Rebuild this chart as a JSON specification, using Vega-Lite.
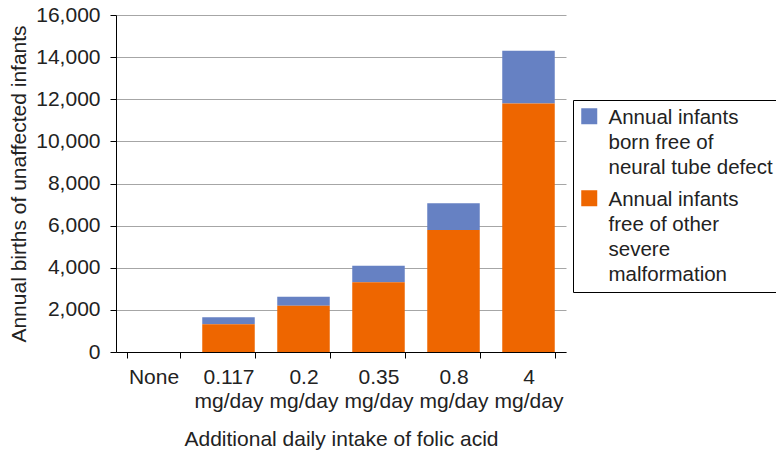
{
  "$schema": "https://vega.github.io/schema/vega-lite/v6.json",
  "width": 450,
  "height": 337,
  "autosize": {"type": "none"},
  "padding": {"left": 116, "top": 15, "right": 210, "bottom": 101},
  "background": "white",
  "config": {
    "view": {"stroke": null},
    "font": "Liberation Sans",
    "axis": {"labelFont": "Liberation Sans", "titleFont": "Liberation Sans", "labelColor": "#222", "titleColor": "#222", "titleFontWeight": "normal"}
  },
  "data": {
    "values": [
      {"dose": "None", "series": "Annual infants born free of neural tube defect", "births": 0},
      {"dose": "None", "series": "Annual infants free of other severe malformation", "births": 0},
      {"dose": "0.117 mg/day", "series": "Annual infants born free of neural tube defect", "births": 330},
      {"dose": "0.117 mg/day", "series": "Annual infants free of other severe malformation", "births": 1320},
      {"dose": "0.2 mg/day", "series": "Annual infants born free of neural tube defect", "births": 420},
      {"dose": "0.2 mg/day", "series": "Annual infants free of other severe malformation", "births": 2200},
      {"dose": "0.35 mg/day", "series": "Annual infants born free of neural tube defect", "births": 790},
      {"dose": "0.35 mg/day", "series": "Annual infants free of other severe malformation", "births": 3310},
      {"dose": "0.8 mg/day", "series": "Annual infants born free of neural tube defect", "births": 1270},
      {"dose": "0.8 mg/day", "series": "Annual infants free of other severe malformation", "births": 5790},
      {"dose": "4 mg/day", "series": "Annual infants born free of neural tube defect", "births": 2500},
      {"dose": "4 mg/day", "series": "Annual infants free of other severe malformation", "births": 11800}
    ]
  },
  "mark": {"type": "bar"},
  "encoding": {
    "x": {
      "field": "dose",
      "type": "nominal",
      "sort": null,
      "scale": {"paddingInner": 0.3, "paddingOuter": 0.15},
      "axis": {
        "title": "Additional daily intake of folic acid",
        "titleFontSize": 21,
        "titleX": 225,
        "titleY": 93,
        "titleBaseline": "alphabetic",
        "labelAngle": 0,
        "labelFontSize": 21,
        "labelExpr": "split(datum.label, ' ')",
        "labelLineHeight": 24.5,
        "labelPadding": 8,
        "tickBand": "extent",
        "tickSize": 6,
        "tickColor": "black",
        "domainColor": "black",
        "grid": false
      }
    },
    "y": {
      "field": "births",
      "type": "quantitative",
      "stack": "zero",
      "scale": {"domain": [0, 16000], "nice": false},
      "axis": {
        "title": "Annual births of unaffected infants",
        "titleFontSize": 21,
        "titleAngle": 270,
        "titleX": -91,
        "titleY": 168.5,
        "titleBaseline": "alphabetic",
        "values": [0, 2000, 4000, 6000, 8000, 10000, 12000, 14000, 16000],
        "format": ",d",
        "labelFontSize": 21,
        "labelPadding": 10,
        "tickSize": 6,
        "tickColor": "black",
        "domainColor": "black",
        "grid": true,
        "gridColor": "#A6A6A6",
        "gridWidth": 1
      }
    },
    "color": {
      "field": "series",
      "type": "nominal",
      "scale": {
        "domain": ["Annual infants born free of neural tube defect", "Annual infants free of other severe malformation"],
        "range": ["#6681C3", "#EE6600"]
      },
      "legend": {
        "title": null,
        "orient": "none",
        "legendX": 457,
        "legendY": 85,
        "padding": 6,
        "strokeColor": "black",
        "fillColor": "white",
        "symbolType": "square",
        "symbolSize": 256,
        "symbolStrokeWidth": 0,
        "symbolOpacity": 1,
        "labelFont": "Liberation Sans",
        "labelFontSize": 20.5,
        "labelColor": "#222",
        "labelLimit": 400,
        "labelBaseline": "alphabetic",
        "labelOffset": 9,
        "rowPadding": 9,
        "labelExpr": "datum.label == 'Annual infants born free of neural tube defect' ? ['Annual infants', 'born free of', 'neural tube defect'] : ['Annual infants', 'free of other', 'severe', 'malformation']",
        "encode": {
          "labels": {"update": {"lineHeight": {"value": 25}, "dy": {"value": 8}}}
        }
      }
    },
    "order": {"field": "series", "sort": "descending"}
  }
}
